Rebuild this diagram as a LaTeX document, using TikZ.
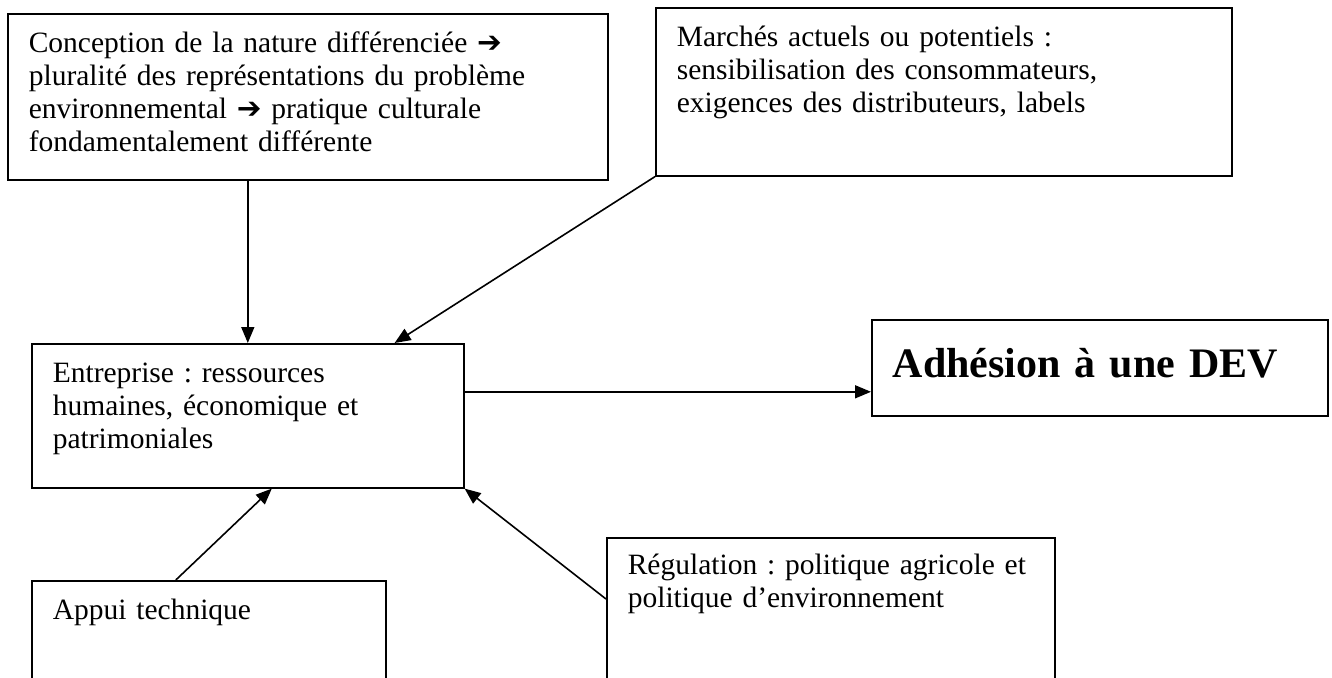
\documentclass[tikz,border=0pt]{standalone}
\usepackage{fontspec}
\setmainfont{Liberation Serif}
\newfontfamily\flechefont{DejaVu Sans Bold}
\usetikzlibrary{arrows.meta}

\newcommand{\fleche}{{\flechefont\char"2794}}
\frenchspacing

\begin{document}
\begin{tikzpicture}[x=1pt,y=-1pt,->,>={Triangle[length=16pt,width=13pt]},line width=1.6pt,
    font=\fontsize{29.5}{33}\selectfont,
    boite/.style={draw, rectangle, anchor=north west, align=left, inner xsep=21pt, inner ysep=0pt, text height=39pt},
    titre/.style={boite, font=\fontsize{42}{48}\selectfont\bfseries}]

    \path[use as bounding box, clip] (0,0) rectangle (1332,677);

    \node[boite, text width=558pt, text depth=127pt] (concep) at (7,13)
    { Conception de la nature différenciée \fleche\\
      pluralité des représentations du problème\\
      environnemental \fleche{} pratique culturale\\
      fondamentalement différente };

    \node[boite, text width=534pt, text depth=129pt] (marches) at (655,7)
    { Marchés actuels ou potentiels :\\
      sensibilisation des consommateurs,\\
      exigences des distributeurs, labels };

    %------------------------------------------------

    \node[boite, text width=390pt, text depth=105pt] (entreprise) at (31,343)
    { Entreprise : ressources\\
      humaines, économique et\\
      patrimoniales };

    \node[titre, text width=414pt, text height=58pt, text depth=38pt] (adhesion) at (871,319)
    { Adhésion à une DEV };

    %------------------------------------------------

    \node[boite, text width=312pt, text depth=120pt] (appui) at (31,580)
    { Appui technique };

    \node[boite, text width=406pt, text height=37pt, text depth=160pt] (regulation) at (606,537)
    { Régulation : politique agricole et\\
      politique d’environnement };

    \path[]
    {
        (concep.south -| entreprise.north) edge (entreprise.north)
        (marches.south west) edge ([xshift=-70pt]entreprise.north east)
        ([yshift=24pt]entreprise.east) edge ([yshift=24pt]entreprise.east -| adhesion.west)
        ([xshift=-33pt]appui.north) edge ([xshift=24pt]entreprise.south)
        ([yshift=-62pt]regulation.north west) edge (entreprise.south east)
    };
\end{tikzpicture}
\end{document}
